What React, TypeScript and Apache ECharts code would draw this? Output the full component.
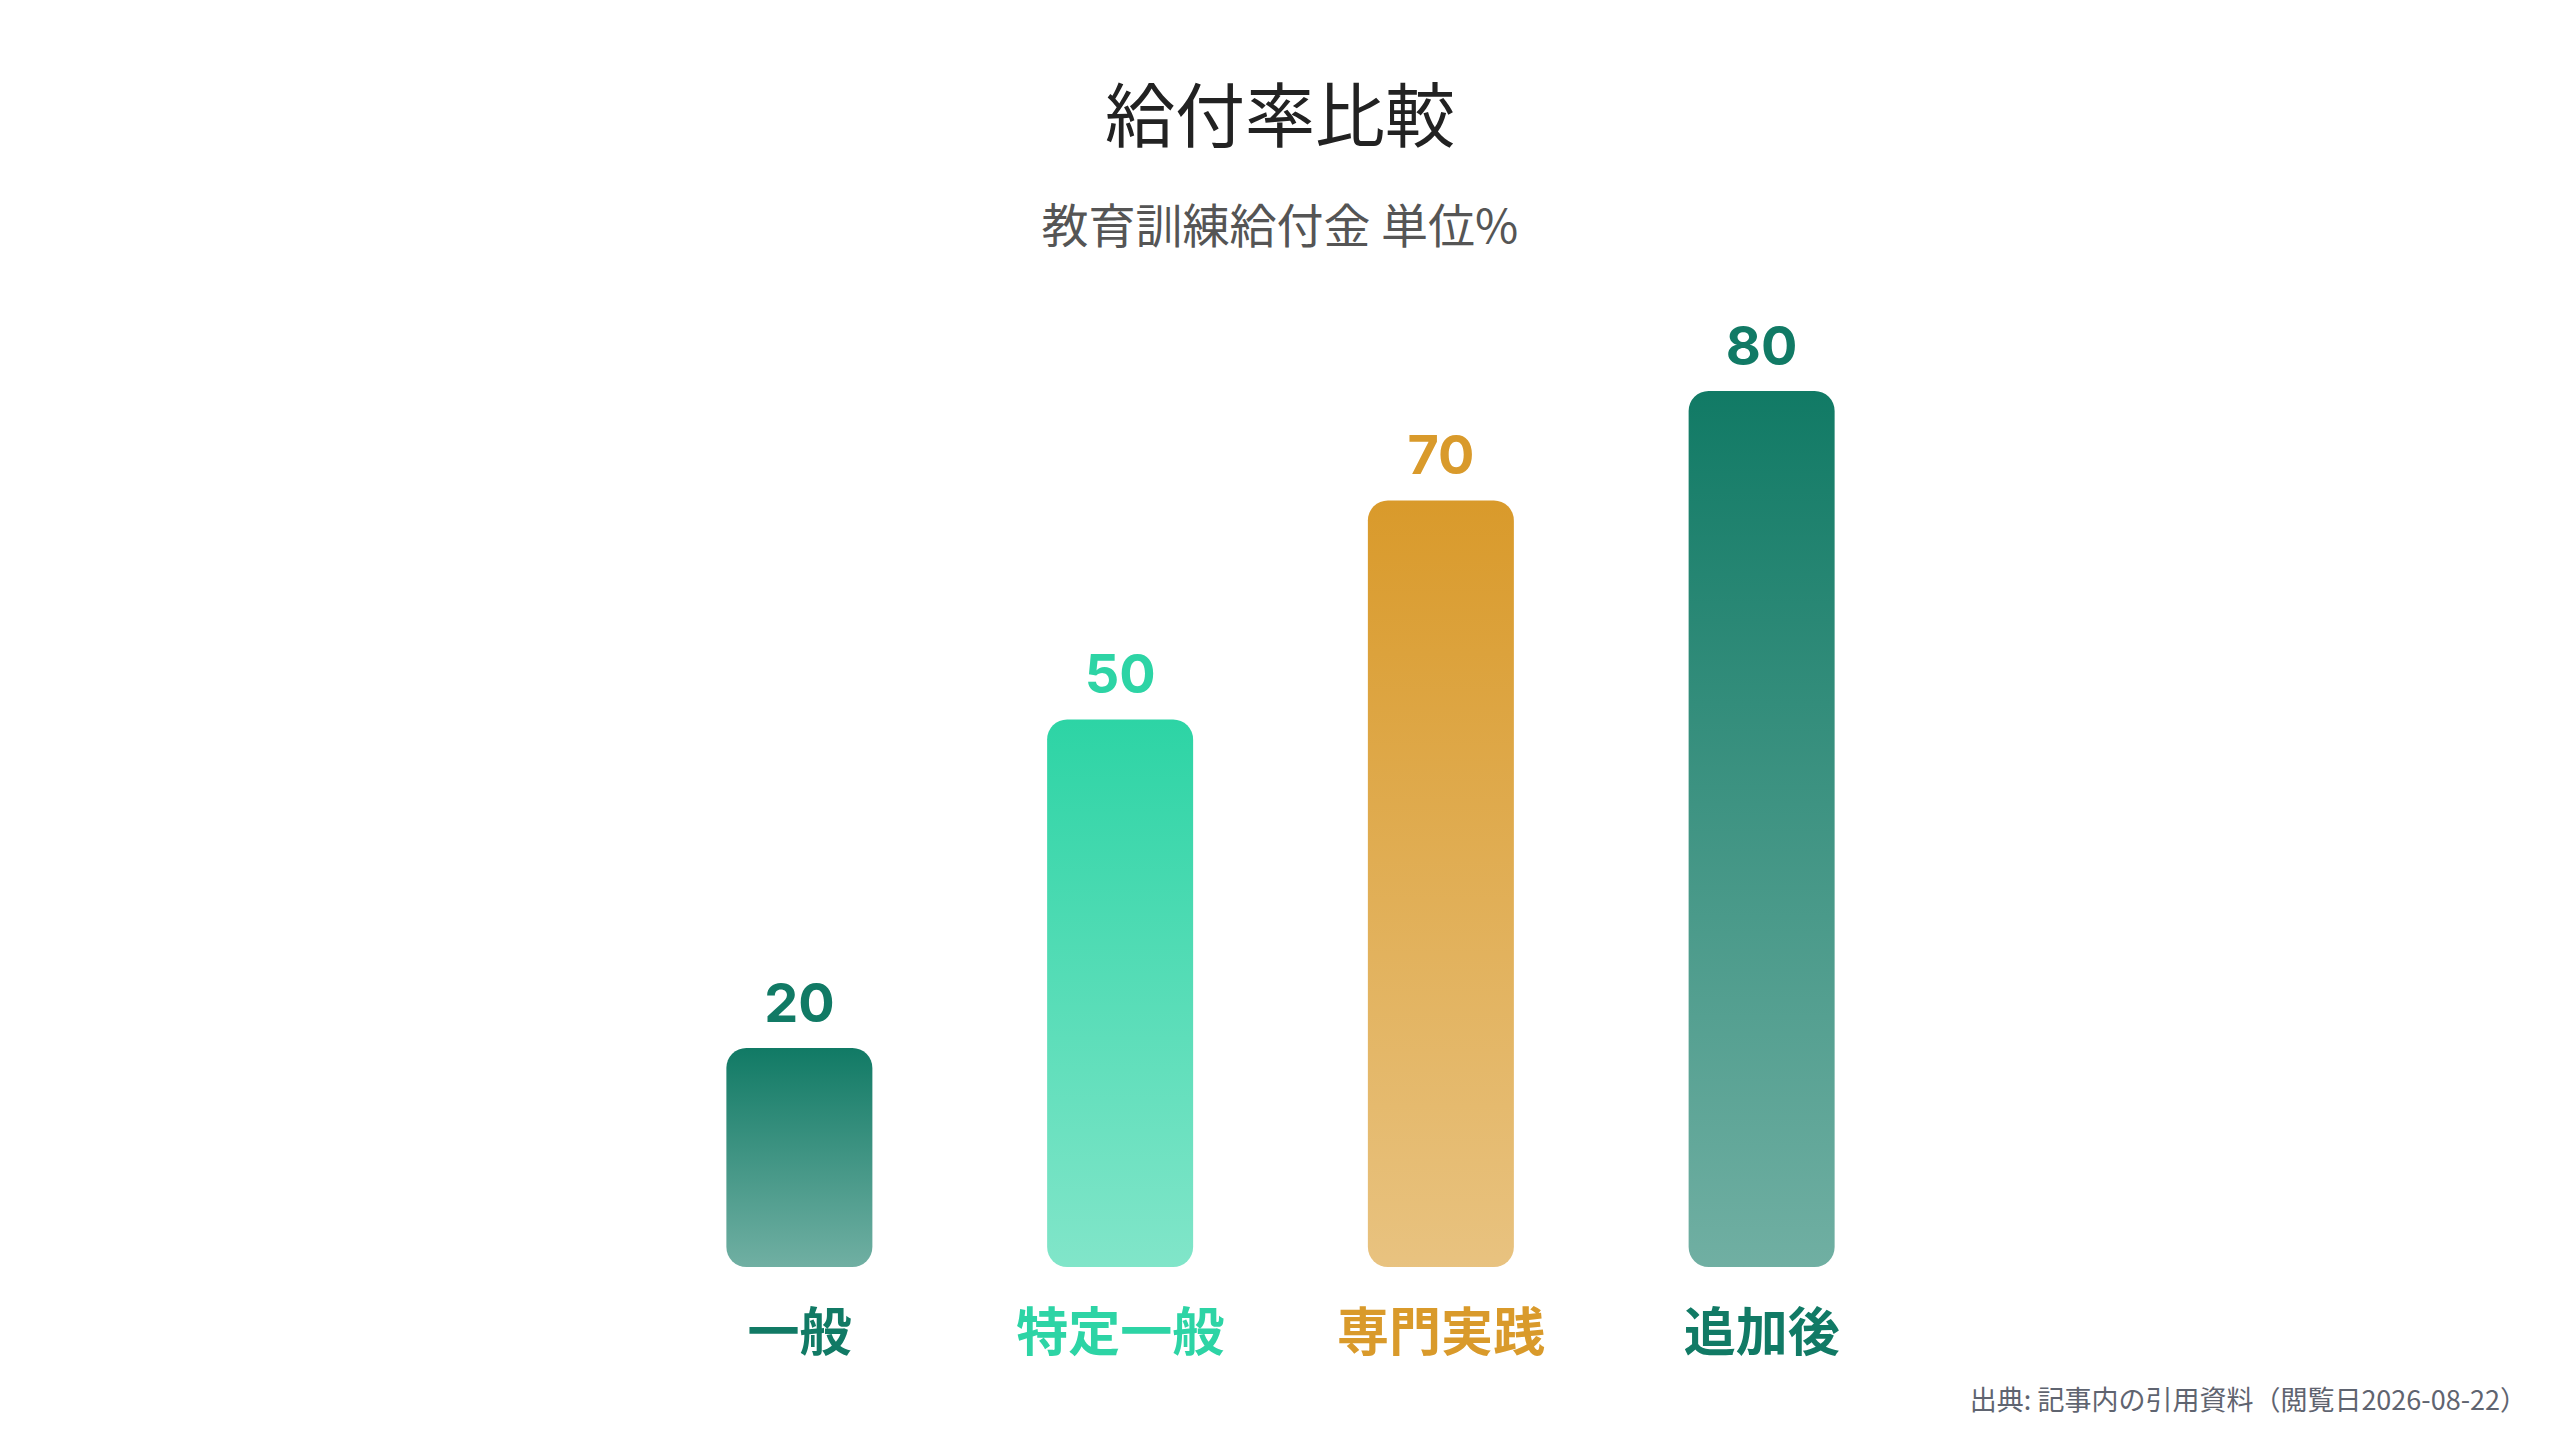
import React, { useEffect, useRef } from "react";
import * as echarts from "echarts";

const categories = ["一般", "特定一般", "専門実践", "追加後"];
const values = [20, 50, 70, 80];
const colors = ["#117a65", "#2dd4a5", "#d99a2b", "#117a65"];
const titleText = "給付率比較";
const subtitleText = "教育訓練給付金 単位%";
const sourceText = "出典: 記事内の引用資料（閲覧日2026-08-22）";

const FONT = "Inter, 'Noto Sans CJK JP', sans-serif";
const CJK = "'Noto Sans CJK JP', sans-serif";

function hexA(hex: string, a: number) {
  const r = parseInt(hex.slice(1, 3), 16);
  const g = parseInt(hex.slice(3, 5), 16);
  const b = parseInt(hex.slice(5, 7), 16);
  return `rgba(${r},${g},${b},${a})`;
}

export default function App() {
  const ref = useRef<HTMLDivElement>(null);
  useEffect(() => {
    if (!ref.current) return;
    const chart = echarts.init(ref.current, null, { renderer: "svg" });
    const rich: Record<string, any> = {};
    colors.forEach((c, i) => {
      rich["c" + i] = { color: c, fontSize: 52, fontWeight: "bold", fontFamily: CJK };
    });
    chart.setOption({
      animation: false,
      backgroundColor: "#ffffff",
      grid: { left: 639, right: 638, top: 172, bottom: 173, containLabel: false },
      xAxis: {
        type: "category",
        data: categories,
        axisLine: { show: false },
        axisTick: { show: false },
        axisLabel: {
          margin: 35,
          formatter: (v: string) => {
            const i = categories.indexOf(v);
            return `{c${i}|${v}}`;
          },
          rich,
        },
      },
      yAxis: {
        type: "value",
        min: 0,
        max: 100,
        show: false,
        splitLine: { show: false },
      },
      series: [
        {
          type: "bar",
          barWidth: 146,
          data: values.map((v, i) => ({
            value: v,
            itemStyle: {
              borderRadius: [20, 20, 20, 20],
              color: new echarts.graphic.LinearGradient(0, 0, 0, 1, [
                { offset: 0, color: hexA(colors[i], 1) },
                { offset: 1, color: hexA(colors[i], 0.6) },
              ]),
            },
            label: {
              show: true,
              position: "top",
              distance: 19,
              color: colors[i],
              fontSize: 54,
              fontWeight: "bold",
              fontFamily: FONT,
            },
          })),
        },
      ],
      graphic: [
        {
          type: "text",
          x: 1280,
          y: 111,
          style: {
            text: titleText,
            fontSize: 70,
            fontFamily: CJK,
            fill: "#222222",
            align: "center",
            verticalAlign: "middle",
          },
        },
        {
          type: "text",
          x: 1280,
          y: 222,
          style: {
            text: subtitleText,
            fontSize: 47,
            fontFamily: CJK,
            fill: "#555555",
            align: "center",
            verticalAlign: "middle",
          },
        },
        {
          type: "text",
          x: 2527,
          y: 1398,
          style: {
            text: sourceText,
            fontSize: 27,
            fontFamily: CJK,
            fill: "#5f6470",
            align: "right",
            verticalAlign: "middle",
          },
        },
      ],
    });
    return () => chart.dispose();
  }, []);
  return (
    <div
      ref={ref}
      style={{ position: "fixed", left: 0, top: 0, width: "100vw", height: "100vh", background: "#fff" }}
    />
  );
}
